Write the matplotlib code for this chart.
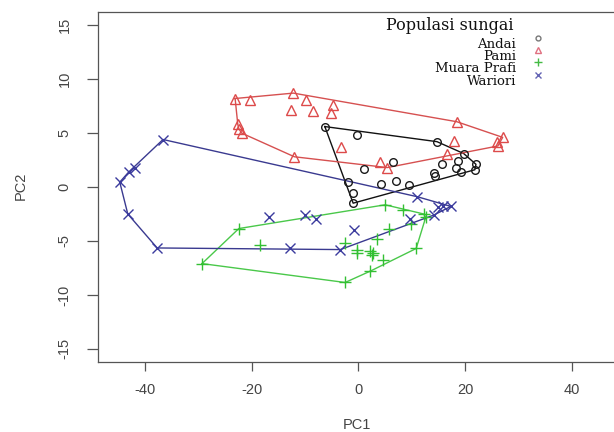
import numpy as np
import matplotlib.pyplot as plt
from matplotlib.lines import Line2D

plt.rcParams['axes.unicode_minus'] = False

# PCA scores (PC1, PC2) per river population
andai_pc1 = [-6.3, -0.3, 14.7, 19.7, 22.0, 21.8, 18.6, 15.6, 6.5, 1.0,
             18.3, 19.2, 14.2, 14.3, 4.2, 7.1, 9.4, -2.0, -1.0, -1.0]
andai_pc2 = [5.6, 4.8, 4.2, 3.1, 2.1, 1.6, 2.4, 2.1, 2.3, 1.7,
             1.8, 1.4, 1.3, 1.0, 0.3, 0.6, 0.15, 0.5, -0.55, -1.5]

pami_pc1 = [-23.1, -20.3, -12.2, -9.9, -4.8, -5.1, -12.6, -8.5, -22.6, -21.9,
            -12.0, -3.3, 18.4, 17.9, 27.0, 26.0, 26.1, 16.6, 4.1, 5.4, -22.4]
pami_pc2 = [8.2, 8.1, 8.7, 8.1, 7.6, 6.9, 7.1, 7.0, 5.8, 5.0,
            2.8, 3.7, 6.05, 4.3, 4.6, 4.2, 3.8, 3.05, 2.3, 1.8, 5.4]

prafi_pc1 = [5.0, 8.3, 12.2, 12.6, 9.8, 5.8, 3.4, -2.5, -0.3, -0.3,
             2.2, 2.5, 2.7, 4.6, 2.2, -2.5, 10.8, -29.3, -22.4, -18.5]
prafi_pc2 = [-1.65, -2.15, -2.5, -2.8, -3.4, -3.9, -4.8, -5.2, -5.8, -6.1,
             -5.9, -6.3, -6.1, -6.8, -7.8, -8.85, -5.7, -7.1, -3.85, -5.35]

wariori_pc1 = [-36.6, -41.9, -43.0, -44.7, -43.2, -37.7, -12.8, -3.4, -16.8,
               -10.0, -8.0, -0.8, 11.0, 14.9, 15.9, 17.3, 14.1, 9.6]
wariori_pc2 = [4.4, 1.8, 1.4, 0.45, -2.5, -5.65, -5.7, -5.8, -2.8,
               -2.55, -2.95, -4.0, -0.9, -1.9, -1.8, -1.8, -2.6, -3.0]

groups = ['Andai', 'Pami', 'Muara Prafi', 'Wariori']


def hull(xs, ys):
    """Convex hull (monotone chain), closed polygon."""
    pts = sorted(set(zip(xs, ys)))

    def cross(o, a, b):
        return (a[0] - o[0]) * (b[1] - o[1]) - (a[1] - o[1]) * (b[0] - o[0])

    lower, upper = [], []
    for p in pts:
        while len(lower) >= 2 and cross(lower[-2], lower[-1], p) <= 0:
            lower.pop()
        lower.append(p)
    for p in reversed(pts):
        while len(upper) >= 2 and cross(upper[-2], upper[-1], p) <= 0:
            upper.pop()
        upper.append(p)
    h = lower[:-1] + upper[:-1]
    h.append(h[0])
    return np.array(h)


fig = plt.figure(figsize=(6.14, 4.32), dpi=100)
ax = fig.add_axes([0.1594, 0.1625, 0.8489, 0.8093])

styles = [
    (andai_pc1, andai_pc2, 'o', '#1a1a1a', '#111111', 5.5),
    (pami_pc1, pami_pc2, '^', '#dd4a4a', '#d65050', 7.5),
    (prafi_pc1, prafi_pc2, '+', '#33c033', '#4ac84a', 8.5),
    (wariori_pc1, wariori_pc2, 'x', '#3b3b9e', '#3a3a90', 6.5),
]

for xs, ys, mk, mc, lc, ms in styles:
    ax.plot(xs, ys, linestyle='none', marker=mk, ms=ms, mfc='none',
            mec=mc, mew=1.0, zorder=3)
    h = hull(xs, ys)
    ax.plot(h[:, 0], h[:, 1], color=lc, lw=1.0, zorder=2)

ax.set_xlim(-48.8, 48.8)
ax.set_ylim(-16.2, 16.2)
ax.set_xticks([-40, -20, 0, 20, 40])
ax.set_yticks([-15, -10, -5, 0, 5, 10, 15])
ax.tick_params(axis='x', length=6.5, width=0.9, pad=9, labelsize=10.5,
               colors='#555555', labelcolor='#444444')
ax.tick_params(axis='y', length=8, width=0.9, pad=11, labelsize=10.5,
               colors='#555555', labelcolor='#444444')
for lab in ax.get_yticklabels():
    lab.set_rotation(90)
    lab.set_va('center')
for lab in ax.get_xticklabels() + ax.get_yticklabels():
    lab.set_family('Liberation Sans')
for sp in ax.spines.values():
    sp.set_color('#555555')
    sp.set_linewidth(0.9)

fig.text(357 / 614, 1 - 425 / 432, 'PC1', ha='center', va='center',
         fontsize=10.5, color='#444444', family='Liberation Sans')
fig.text(21 / 614, 1 - 186 / 432, 'PC2', ha='center', va='center',
         rotation=90, fontsize=10.5, color='#444444', family='Liberation Sans')

# legend drawn by hand, as in the source figure
fig.text(513 / 614, 1 - 30 / 432, 'Populasi sungai', ha='right',
         va='baseline', fontsize=11.5, family='DejaVu Serif', color='#111111')
label_base = [47.5, 60, 72.5, 85]
marker_y = [38, 50, 62, 75]
leg_marks = [('o', '#777777', 3.5), ('^', '#e07080', 4.5),
             ('+', '#44bb44', 5.5), ('x', '#6464b4', 4.5)]
for name, yb, ym, (mk, mc, ms) in zip(groups, label_base, marker_y, leg_marks):
    fig.text(516 / 614, 1 - yb / 432, name, ha='right', va='baseline',
             fontsize=9.5, family='DejaVu Serif', color='#111111')
    fig.add_artist(Line2D([538 / 614], [1 - ym / 432], marker=mk, ms=ms,
                          mfc='none', mec=mc, mew=1.0, linestyle='none',
                          transform=fig.transFigure))

fig.savefig('out.png', dpi=100)
